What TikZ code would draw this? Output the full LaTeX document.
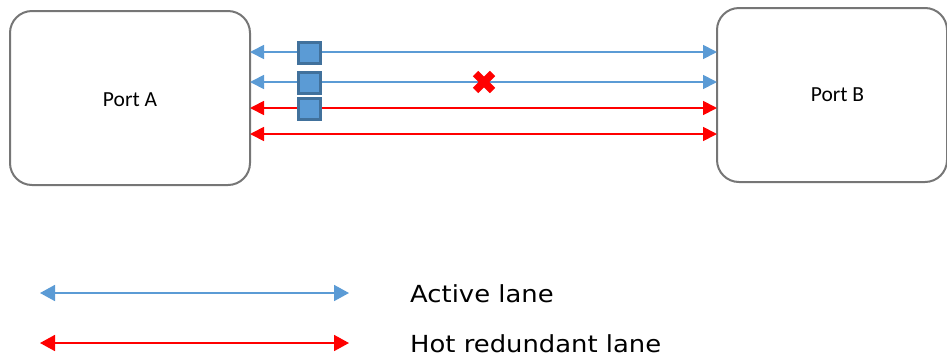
\documentclass[tikz,border=0pt]{standalone}
\usepackage{fontspec}
\setmainfont{Carlito}
\newfontfamily\legfont{DejaVu Sans}
\usetikzlibrary{arrows.meta}
\definecolor{lblue}{HTML}{5B9BD5}
\definecolor{sqborder}{HTML}{41719C}
\definecolor{boxgray}{HTML}{767676}
\begin{document}
\begin{tikzpicture}[x=1pt,y=-1pt,
  port/.style={draw=boxgray,line width=2pt,rounded corners=22pt,minimum width=240pt,minimum height=174pt,inner sep=0pt},
  porttext/.style={anchor=base,font=\fontsize{21.5}{24}\selectfont,inner sep=0pt},
  bluelane/.style={lblue,line width=1.8pt,{Triangle[length=14pt,width=14pt]}-{Triangle[length=14pt,width=14pt]}},
  redlane/.style={red,line width=1.8pt,{Triangle[length=14pt,width=14pt]}-{Triangle[length=14pt,width=14pt]}},
  legblue/.style={bluelane,{Triangle[length=15pt,width=16pt]}-{Triangle[length=15pt,width=16pt]}},
  legred/.style={redlane,{Triangle[length=15pt,width=16pt]}-{Triangle[length=15pt,width=16pt]}},
  sq/.style={draw=sqborder,fill=lblue,line width=2.2pt,minimum width=22pt,minimum height=21pt,inner sep=0pt},
  legtext/.style={anchor=base west,font=\legfont\fontsize{23.5}{28}\selectfont,inner sep=0pt}
]
\useasboundingbox (0,0) rectangle (947,357);
\node[port] (pa) at (130,98) {};
\node[porttext] (pat) at (130,106.7) {Port A};
\node[port,minimum width=230pt] (pb) at (832,95) {};
\node[porttext] (pbt) at (837.5,101.7) {Port B};
% lane coordinates
\coordinate (a1) at (250,52);  \coordinate (b1) at (717,52);
\coordinate (a2) at (250,82);  \coordinate (b2) at (717,82);
\coordinate (a3) at (250,108); \coordinate (b3) at (717,108);
\coordinate (a4) at (250,134); \coordinate (b4) at (717,134);
\draw[bluelane] (a1) -- (b1);
\draw[bluelane] (a2) -- (b2);
\draw[redlane] (a3) -- (b3);
\draw[redlane] (a4) -- (b4);
\node[sq] (s1) at (309.5,53) {};
\node[sq] (s2) at (309.5,83) {};
\node[sq] (s3) at (309.5,109) {};
% failure cross
\coordinate (x) at (484,82);
\draw[red,line width=7.5pt] ([shift={(-8.5,-8.5)}]x) -- ([shift={(8.5,8.5)}]x);
\draw[red,line width=7.5pt] ([shift={(-8.5,8.5)}]x) -- ([shift={(8.5,-8.5)}]x);
% legend
\coordinate (l1a) at (40,293); \coordinate (l1b) at (349,293);
\coordinate (l2a) at (40,343); \coordinate (l2b) at (349,343);
\draw[legblue] (l1a) -- (l1b);
\draw[legred] (l2a) -- (l2b);
\node[legtext] (t1) at (410,302.3) {\scalebox{1.1}[1]{Active lane}};
\node[legtext] (t2) at (410,352.3) {\scalebox{1.1}[1]{Hot redundant lane}};
\end{tikzpicture}
\end{document}
